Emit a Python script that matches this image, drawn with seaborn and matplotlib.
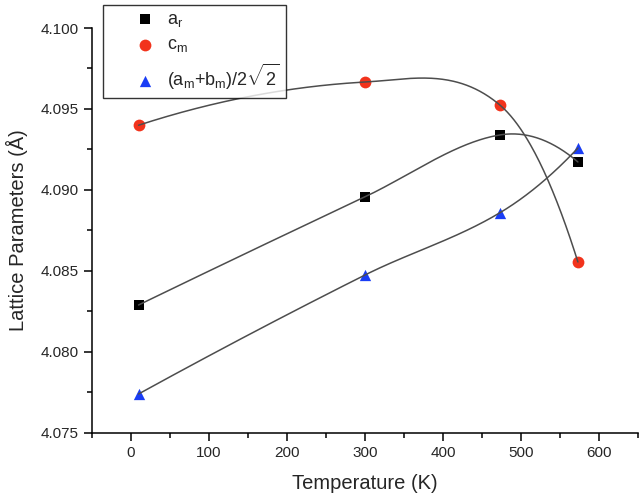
import numpy as np
import matplotlib
matplotlib.use("Agg")
import matplotlib.pyplot as plt
import seaborn as sns
from matplotlib.ticker import MultipleLocator, FormatStrFormatter

# data
temperature = [10, 300, 473, 573]
a_r = [4.08288, 4.08956, 4.09339, 4.09172]
c_m = [4.09399, 4.09666, 4.09524, 4.08554]
ab_m = [4.07738, 4.08473, 4.08858, 4.09258]

labels = [r"$\mathregular{a_r}$", r"$\mathregular{c_m}$",
          r"$\mathregular{(a_m{+}b_m)/2\sqrt{2}}$"]


def spline_curve(x, y, xs):
    # cubic hermite pieces, chord slopes inside, parabolic slopes at the ends
    x = np.asarray(x, float)
    y = np.asarray(y, float)
    n = len(x)
    d = np.diff(y) / np.diff(x)
    m = np.zeros(n)
    m[1:-1] = (y[2:] - y[:-2]) / (x[2:] - x[:-2])
    m[0] = 2 * d[0] - m[1]
    m[-1] = 2 * d[-1] - m[-2]
    idx = np.clip(np.searchsorted(x, xs) - 1, 0, n - 2)
    h = x[idx + 1] - x[idx]
    t = (xs - x[idx]) / h
    h00 = 2 * t**3 - 3 * t**2 + 1
    h10 = t**3 - 2 * t**2 + t
    h01 = -2 * t**3 + 3 * t**2
    h11 = t**3 - t**2
    return h00 * y[idx] + h10 * h * m[idx] + h01 * y[idx + 1] + h11 * h * m[idx + 1]


sns.set_style("ticks")
plt.rcParams["font.family"] = ["Liberation Sans", "DejaVu Sans"]
plt.rcParams["mathtext.fontset"] = "custom"
plt.rcParams["mathtext.rm"] = "Liberation Sans"
plt.rcParams["mathtext.it"] = "Liberation Sans:italic"

fig = plt.figure(figsize=(6.4, 4.95), dpi=100)
ax = fig.add_axes([91.7 / 640, 1 - 432.5 / 495, (638 - 91.7) / 640, (432.5 - 28) / 495])

series = [(a_r, "s", "black", 60), (c_m, "o", "#f2331c", 72), (ab_m, "^", "#1a3df5", 66)]
xs = np.linspace(temperature[0], temperature[-1], 400)
for (vals, mk, col, size), lab in zip(series, labels):
    sns.scatterplot(x=temperature, y=vals, marker=mk, color=col, s=size,
                    linewidth=0, ax=ax, label=lab, zorder=2)
    ax.plot(xs, spline_curve(temperature, vals, xs), color="#4d4d4d",
            lw=1.1, zorder=3)

ax.set_xlim(-50, 650)
ax.set_ylim(4.075, 4.100)
ax.xaxis.set_major_locator(MultipleLocator(100))
ax.xaxis.set_minor_locator(MultipleLocator(50))
ax.yaxis.set_major_locator(MultipleLocator(0.005))
ax.yaxis.set_minor_locator(MultipleLocator(0.0025))
ax.yaxis.set_major_formatter(FormatStrFormatter("%.3f"))
ax.tick_params(which="major", length=5.5, width=1.1, labelsize=11, pad=4, color="black")
ax.tick_params(which="minor", length=3.5, width=1.1, color="black")
for side in ["top", "right"]:
    ax.spines[side].set_visible(False)
for side in ["left", "bottom"]:
    ax.spines[side].set_linewidth(1.1)
    ax.spines[side].set_color("black")

ax.set_xlabel("Temperature (K)", fontsize=14.5, labelpad=10)
ax.set_ylabel("Lattice Parameters (Å)", fontsize=14.5, labelpad=9)

leg = ax.legend(loc="lower left", bbox_to_anchor=(103 / 640, 1 - 98 / 495),
                bbox_transform=fig.transFigure, borderaxespad=0, fontsize=13,
                frameon=True, fancybox=False, edgecolor="black",
                handlelength=3.95, handletextpad=-0.76, borderpad=0.35,
                labelspacing=0.4, markerscale=1.0)
leg.get_frame().set_linewidth(1.0)
leg.set_zorder(5)

fig.savefig("out.png", dpi=100)
